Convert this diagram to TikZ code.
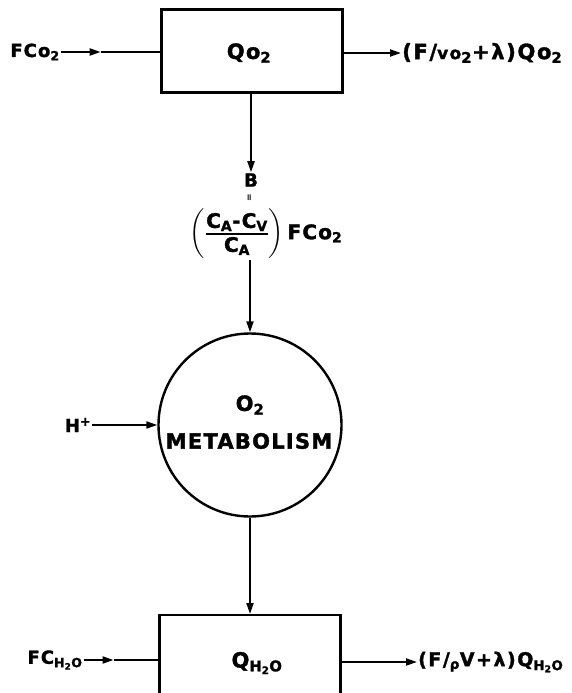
\documentclass[tikz,border=0pt]{standalone}
\usepackage{amsmath}
\usepackage{fontspec}
\setmainfont{DejaVu Sans}
\newfontfamily\lblfont{DejaVu Sans}[LetterSpace=6, BoldFeatures={FakeBold=1.6}]
\usepackage{tikz}
\usetikzlibrary{positioning, arrows.meta, calc}

\begin{document}
\begin{tikzpicture}[
  x=1pt, y=-1pt,
  every node/.style={font=\lblfont\bfseries\fontsize{18}{21}\selectfont, inner sep=1pt},
  wide/.style={font=\lblfont\bfseries\fontsize{#1}{22}\selectfont\addfontfeature{LetterSpace=8}},
  box/.style={draw, line width=2.4pt, minimum width=181pt, minimum height=#1},
  box/.default={83pt},
  ball/.style={draw, circle, line width=2.4pt, minimum size=183pt, inner sep=0pt, align=center},
  big/.style={font=\lblfont\bfseries\fontsize{21}{26}\selectfont},
  arr/.style={-{Triangle[length=11pt, width=7pt]}, line width=2pt},
  ln/.style={line width=2pt},
]
  \useasboundingbox (0,0) rectangle (571,693);
  \clip (0,0) rectangle (571,693);

  % Upper compartment
  \node[box] (qo2) at (252,51) {};
  \node[big] (qo2lbl) at (249,53) {Qo\textsubscript{2}};
  \node (fco2) at (35,52) {FCo\textsubscript{2}};
  \node[wide=21, anchor=west] (qo2out) at (401,53) {(F/{\fontsize{17}{18}\selectfont vo}\textsubscript{2}+λ)Qo\textsubscript{2}};

  % Transfer term
  \node (bnode) at (251,180) {B};
  \node[font=\bfseries\fontsize{9}{10}\selectfont] (eqsign) at (250,198) {\rotatebox{90}{=}};
  \node[font=\lblfont\bfseries\fontsize{20}{22}\selectfont] (frac) at (266,234) {$\left(\genfrac{}{}{2pt}{}{\hbox{C\textsubscript{A}-C\textsubscript{V}}}{\hbox{C\textsubscript{A}}}\right)$\,FCo\textsubscript{2}};

  % Metabolism
  \node[ball] (metab) at (250,425) {};
  \node[big] (o2lbl) at (250,405) {O\textsubscript{2}};
  \node[big] (metablbl) at (249,441) {METABOLISM};
  \node (hplus) at (78,425) {H\textsuperscript{+}};

  % Lower compartment
  \node[box=140pt, anchor=north] (qh2o) at (250,614) {};
  \node[big] (qh2olbl) at (257,663) {Q\textsubscript{H\textsubscript{2}O}};
  \node (fch2o) at (55,660) {FC\textsubscript{H\textsubscript{2}O}};
  \node[wide=19, anchor=west] (qh2oout) at (417,662) {(F/\textsubscript{ρ}V+λ)Q\textsubscript{H\textsubscript{2}O}};

  % Mid-line arrow points
  \coordinate (fco2mid) at ($(fco2.east)!0.4!(fco2.east -| qo2.west)$);
  \coordinate (fch2omid) at ($(fch2o.east)!0.4!(fch2o.east -| qh2o.west)$);

  % Arrows
  \draw[arr] (fco2.east) -- (fco2mid);
  \draw[ln] (fco2mid) -- (fco2.east -| qo2.west);
  \draw[arr] (qo2out.west -| qo2.east) -- (qo2out.west);
  \draw[arr] (qo2.south -| bnode.north) -- (bnode.north);
  \draw[arr] (frac.south -| metab.north) -- (metab.north);
  \draw[arr] (hplus.east) -- (hplus.east -| metab.west);
  \draw[arr] (metab.south) -- (qh2o.north);
  \draw[arr] (fch2o.east) -- (fch2omid);
  \draw[ln] (fch2omid) -- (fch2o.east -| qh2o.west);
  \draw[arr] (qh2oout.west -| qh2o.east) -- (qh2oout.west);
\end{tikzpicture}
\end{document}
